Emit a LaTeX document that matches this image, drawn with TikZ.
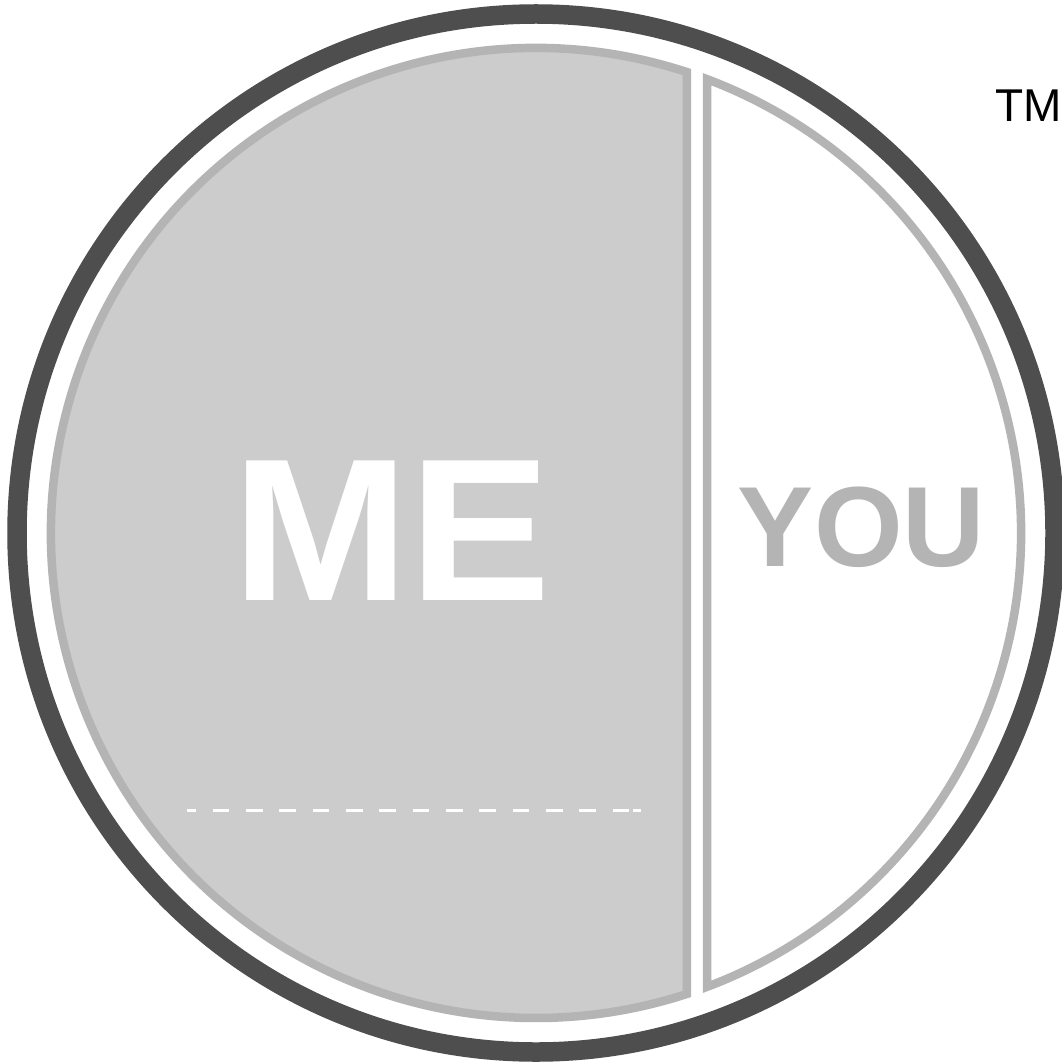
\documentclass[tikz,border=0pt]{standalone}
\usepackage{graphicx}
\usepackage{fontspec}
\setmainfont{Liberation Sans}
\usetikzlibrary{calc}
\definecolor{ringdark}{HTML}{4E4E4E}
\definecolor{rimgray}{HTML}{B4B4B4}
\definecolor{fillgray}{HTML}{CCCCCC}
\tikzset{
  rim/.style={draw=rimgray, line width=8.5pt, line join=miter},
  bigword/.style={inner sep=0pt, anchor=base, font=\bfseries\fontsize{203}{203}\selectfont},
  youword/.style={inner sep=0pt, anchor=base, font=\bfseries\fontsize{114}{114}\selectfont},
}
\begin{document}
\begin{tikzpicture}[x=1pt,y=-1pt]
\useasboundingbox (0,0) rectangle (1061,1064);
\fill[white] (0,0) rectangle (1061,1064);
\coordinate (c) at (536,533);
% outer dark ring
\draw[ringdark, line width=19.5pt] (c) circle[radius=519];
% left piece (ME)
\filldraw[rim, fill=fillgray] ($(c)+(-71.862:485)$) arc[start angle=-71.862, end angle=-288.138, radius=485] -- cycle;
% right piece (YOU)
\filldraw[rim, fill=white] ($(c)+(-69.355:485)$) arc[start angle=-69.355, end angle=69.355, radius=485] -- cycle;
% texts
\node[bigword, text=white] (me) at (391.5,600) {\scalebox{1.045}[1]{ME}};
\node[youword, text=rimgray] (you) at (861.5,566) {YOU};
\node[inner sep=0pt, anchor=base west, font=\fontsize{46}{46}\selectfont] (tm) at (995,122) {TM};
% dashed line
\coordinate (d1) at (187,810.5);
\coordinate (d2) at (629,810.5);
\coordinate (d3) at (633,810.5);
\coordinate (d4) at (641,810.5);
\draw[white, line width=3.3pt, dash pattern=on 16.67pt off 16.67pt, dash phase=7.67pt] (d1) -- (d2);
\draw[white, line width=3.3pt] (d3) -- (d4);
\end{tikzpicture}
\end{document}
